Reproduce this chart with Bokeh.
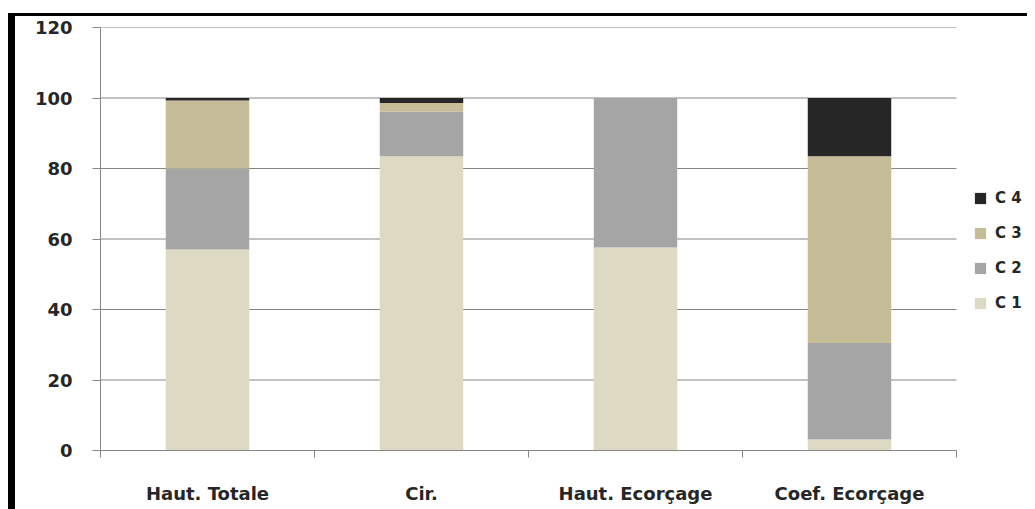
from bokeh.plotting import figure
from bokeh.models import Range1d, FixedTicker, Legend, LegendItem, ColumnDataSource, Div, Spacer
from bokeh.layouts import column, row
from bokeh.embed import file_html
from bokeh.resources import INLINE

categories = ["Haut. Totale", "Cir.", "Haut. Ecorçage", "Coef. Ecorçage"]
classes = ["C1", "C2", "C3", "C4"]
legend_labels = ["C 1", "C 2", "C 3", "C 4"]
C1 = [57.0, 83.5, 57.6, 3.1]
C2 = [23.0, 12.6, 42.4, 27.4]
C3 = [19.3, 2.5, 0.0, 53.0]
C4 = [0.7, 1.4, 0.0, 16.5]
y_ticks = [0, 20, 40, 60, 80, 100, 120]
colors = ["#ddd9c3", "#a5a5a5", "#c4bd97", "#262626"]

n = len(categories)
xs = [i + 0.5 for i in range(n)]
source = ColumnDataSource(dict(x=xs, C1=C1, C2=C2, C3=C3, C4=C4))

FONT = "DejaVu Sans"
TXT = "#262626"
GRID = "#868686"

PLOT_W = 856       # width of the category area in px
LEGEND_W = 71      # extra room on the right for the legend
x_end = n * (PLOT_W + LEGEND_W) / PLOT_W

p = figure(frame_width=PLOT_W + LEGEND_W, frame_height=423,
           x_range=Range1d(0, x_end), y_range=Range1d(0, 120),
           output_backend="svg", toolbar_location=None,
           min_border_left=85, min_border_top=11, min_border_bottom=52,
           min_border_right=0)
p.outline_line_color = None
p.background_fill_color = "white"
p.border_fill_color = "white"

# horizontal gridlines limited to the category area
p.xgrid.grid_line_color = None
p.ygrid.grid_line_color = None
grid_src = ColumnDataSource(dict(y=y_ticks, x0=[0] * len(y_ticks), x1=[n] * len(y_ticks)))
g = p.segment(x0="x0", x1="x1", y0="y", y1="y", source=grid_src,
              line_color=GRID, line_width=1)
g.level = "underlay"

renderers = p.vbar_stack(classes, x="x", width=0.39, source=source,
                         color=colors, line_color=None)

p.yaxis.ticker = FixedTicker(ticks=y_ticks)
p.yaxis.axis_line_color = GRID
p.yaxis.major_tick_line_color = GRID
p.yaxis.major_tick_out = 8
p.yaxis.major_tick_in = 0
p.yaxis.minor_tick_line_color = None
p.yaxis.major_label_standoff = 20
p.yaxis.major_label_text_font = FONT
p.yaxis.major_label_text_font_style = "bold"
p.yaxis.major_label_text_font_size = "18px"
p.yaxis.major_label_text_color = TXT

p.xaxis.bounds = (0, n)
p.xaxis.ticker = FixedTicker(ticks=xs, minor_ticks=list(range(n + 1)))
p.xaxis.major_label_overrides = {x: c for x, c in zip(xs, categories)}
p.xaxis.axis_line_color = GRID
p.xaxis.major_tick_line_color = None
p.xaxis.major_tick_out = 0
p.xaxis.major_tick_in = 0
p.xaxis.minor_tick_line_color = GRID
p.xaxis.minor_tick_out = 7
p.xaxis.minor_tick_in = 0
p.xaxis.major_label_standoff = 25
p.xaxis.major_label_text_font = FONT
p.xaxis.major_label_text_font_style = "bold"
p.xaxis.major_label_text_font_size = "18px"
p.xaxis.major_label_text_color = TXT

items = [LegendItem(label=lab, renderers=[r]) for lab, r in zip(legend_labels, renderers)]
items.reverse()
legend = Legend(items=items, location=(873, 137), glyph_width=14, glyph_height=14,
                label_height=20, spacing=15, label_standoff=8, padding=0, margin=0,
                border_line_color=None, background_fill_alpha=0,
                label_text_font=FONT, label_text_font_style="bold",
                label_text_font_size="15px", label_text_color=TXT)
p.add_layout(legend)

top_bar = Div(text="", width=1012, height=3, margin=0,
              styles={"background-color": "black"})
left_bar = Div(text="", width=7, height=496, margin=0,
               styles={"background-color": "black"})
layout = column(Spacer(width=10, height=13, margin=0),
                row(Spacer(width=8, height=10, margin=0), left_bar,
                    column(top_bar, p, spacing=0), spacing=0),
                spacing=0)

open("out.html", "w").write(file_html(layout, INLINE))
